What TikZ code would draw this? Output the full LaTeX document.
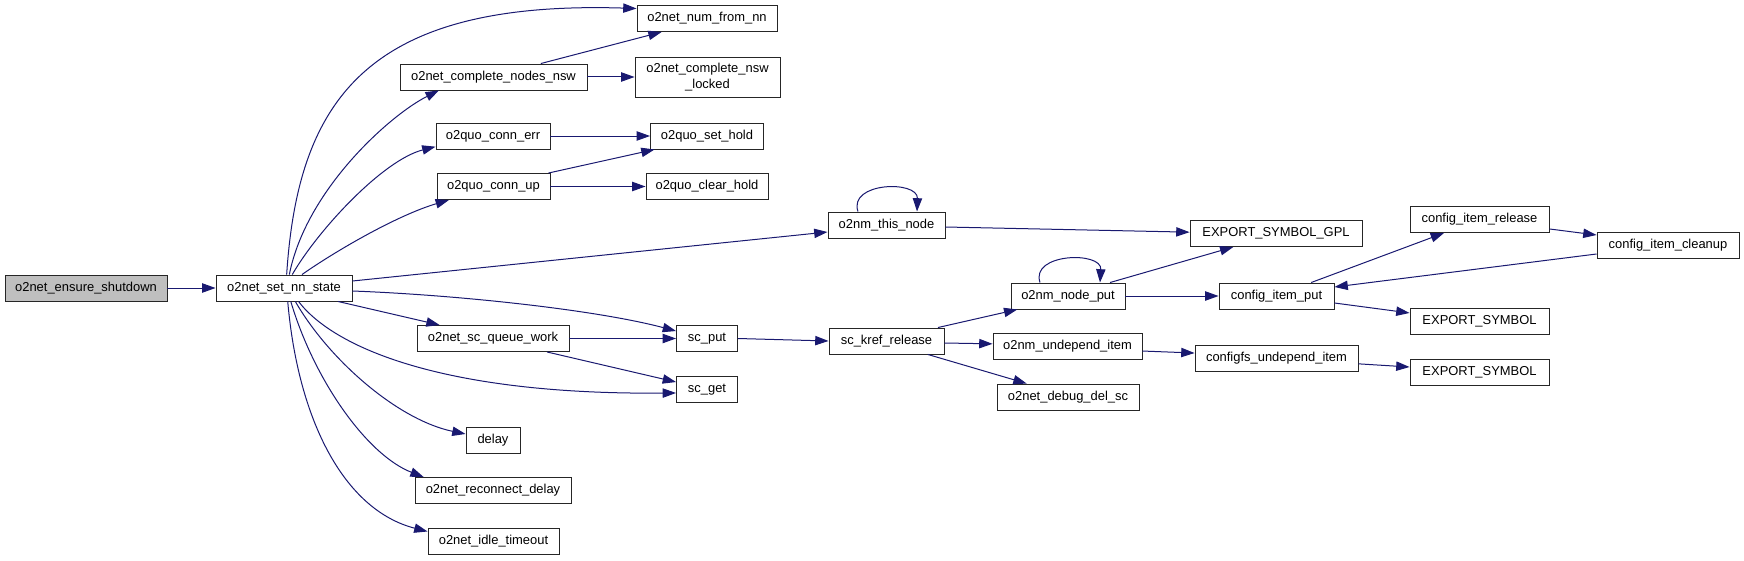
\documentclass[tikz,border=0pt]{standalone}
\usepackage{fontspec}
\setmainfont{Liberation Sans}
\usetikzlibrary{arrows.meta}
\definecolor{edgeblue}{HTML}{191970}
\definecolor{rootgray}{HTML}{BFBFBF}
\tikzset{
  fn/.style={draw=black!85, line width=0.7pt, inner sep=0pt, minimum height=19.5pt, font=\fontsize{9.7}{11.5}\selectfont},
  bw/.style={minimum width=#1*0.75pt},
  call/.style={draw=edgeblue, line width=0.75pt, -{Triangle[length=10pt,width=7pt]}}
}

\begin{document}
\begin{tikzpicture}[x=0.75pt,y=0.75pt,yscale=-1,xscale=1]
\useasboundingbox (0,0) rectangle (1744,560);

% Nodes, first column
\node[fn,bw=162,fill=rootgray] (ensure) at (86,288) {o2net\_ensure\_shutdown};
\node[fn,bw=136] (setnn) at (284,288) {o2net\_set\_nn\_state};

% Nodes called by o2net_set_nn_state
\node[fn,bw=187] (nodesnsw) at (493.5,77) {o2net\_complete\_nodes\_nsw};
\node[fn,bw=114] (connerr) at (493,136) {o2quo\_conn\_err};
\node[fn,bw=113] (connup) at (493.5,186.5) {o2quo\_conn\_up};
\node[fn,bw=152] (queuework) at (493,338.5) {o2net\_sc\_queue\_work};
\node[fn,bw=54] (delay) at (493,440) {delay};
\node[fn,bw=156] (reconnect) at (493,490.5) {o2net\_reconnect\_delay};
\node[fn,bw=131] (idle) at (493.5,541.5) {o2net\_idle\_timeout};

\node[fn,bw=140] (numfrom) at (707,18.5) {o2net\_num\_from\_nn};
\node[fn,bw=145,minimum height=30pt,align=center] (nswlocked) at (707.5,77) {o2net\_complete\_nsw\\\_locked};
\node[fn,bw=113] (sethold) at (707,136) {o2quo\_set\_hold};
\node[fn,bw=122] (clearhold) at (707,186.5) {o2quo\_clear\_hold};
\node[fn,bw=61] (scput) at (707,338.5) {sc\_put};
\node[fn,bw=61] (scget) at (707,389.5) {sc\_get};

% Right half
\node[fn,bw=117] (thisnode) at (886.5,225) {o2nm\_this\_node};
\node[fn,bw=115] (krefrel) at (886.5,341) {sc\_kref\_release};
\node[fn,bw=114] (nodeput) at (1068,296) {o2nm\_node\_put};
\node[fn,bw=149] (undepend) at (1067.5,346.5) {o2nm\_undepend\_item};
\node[fn,bw=142] (debugdel) at (1068,397) {o2net\_debug\_del\_sc};
\node[fn,bw=172] (gpl) at (1276,233.5) {EXPORT\_SYMBOL\_GPL};
\node[fn,bw=115] (itemput) at (1276.5,296) {config\_item\_put};
\node[fn,bw=163] (cfsundepend) at (1276.5,358.5) {configfs\_undepend\_item};
\node[fn,bw=139] (itemrelease) at (1479.5,219.5) {config\_item\_release};
\node[fn,bw=139] (exportone) at (1479.5,321.5) {EXPORT\_SYMBOL};
\node[fn,bw=139] (exporttwo) at (1479.5,372) {EXPORT\_SYMBOL};
\node[fn,bw=142] (itemcleanup) at (1668,245) {config\_item\_cleanup};

% Calls out of o2net_set_nn_state
\draw[call] (ensure) -- (setnn);
\draw[call] ([xshift=2pt]setnn.north) .. controls (298,100) and (367,0) .. ([yshift=-7.5pt]numfrom.west);
\draw[call] ([xshift=4pt]setnn.north) .. controls (306,190) and (390,115) .. ([xshift=-41pt]nodesnsw.south);
\draw[call] ([xshift=6.2pt]setnn.north) .. controls (318,230) and (383,160) .. ([yshift=8pt]connerr.west);
\draw[call] ([xshift=13.5pt]setnn.north) .. controls (337,250) and (398,215) .. ([xshift=-33.4pt]connup.south);
\draw[call] ([yshift=-5.25pt]setnn.east) -- ([yshift=5.25pt]thisnode.west);
\draw[call] ([yshift=2.25pt]setnn.east) .. controls (459,295) and (597,310) .. ([yshift=-5.6pt]scput.west);
\draw[call] ([xshift=40.5pt]setnn.south) -- ([xshift=-40pt]queuework.north);
\draw[call] ([xshift=10.9pt]setnn.south) .. controls (334,348) and (444,395) .. ([yshift=2.6pt]scget.west);
\draw[call] ([xshift=8.5pt]setnn.south) .. controls (329,360) and (398,420) .. ([yshift=-4.5pt]delay.west);
\draw[call] ([xshift=5.1pt]setnn.south) .. controls (314,380) and (367,455) .. ([xshift=-52pt]reconnect.north);
\draw[call] ([xshift=2.8pt]setnn.south) .. controls (298,420) and (344,510) .. ([yshift=-7.5pt]idle.west);

% Second level calls
\draw[call] ([xshift=35.5pt]nodesnsw.north) -- ([xshift=-34pt]numfrom.south);
\draw[call] (nodesnsw) -- (nswlocked);
\draw[call] (connerr) -- (sethold);
\draw[call] ([xshift=41.25pt]connup.north) -- ([xshift=-39.3pt]sethold.south);
\draw[call] (connup) -- (clearhold);
\draw[call] (queuework) -- (scput);
\draw[call] ([xshift=40.5pt]queuework.south) -- ([yshift=-5.6pt]scget.west);
\draw[call] (scput.east) -- (krefrel.west);

% Self loops
\draw[call] ([xshift=-21.4pt]thisnode.north) .. controls (848,182) and (918,180) .. ([xshift=22.9pt]thisnode.north);
\draw[call] ([xshift=-21pt]nodeput.north) .. controls (1030,253) and (1102,251) .. ([xshift=24pt]nodeput.north);

% Calls out of sc_kref_release and below
\draw[call] ([xshift=38.6pt]krefrel.north) -- ([xshift=-38pt]nodeput.south);
\draw[call] ([yshift=1.5pt]krefrel.east) -- ([yshift=-2pt]undepend.west);
\draw[call] ([xshift=31pt]krefrel.south) -- ([xshift=-31pt]debugdel.north);
\draw[call] ([yshift=1.5pt]thisnode.east) -- ([yshift=-1pt]gpl.west);
\draw[call] ([xshift=31.5pt]nodeput.north) -- ([xshift=-32pt]gpl.south);
\draw[call] (nodeput) -- (itemput);
\draw[call] ([yshift=3.4pt]undepend.east) -- ([yshift=-4.1pt]cfsundepend.west);
\draw[call] ([xshift=26pt]itemput.north) -- ([xshift=-26.6pt]itemrelease.south);
\draw[call] ([yshift=7.1pt]itemrelease.east) -- ([yshift=-7.5pt]itemcleanup.west);
\draw[call] ([yshift=6.75pt]itemcleanup.west) -- ([yshift=-6.75pt]itemput.east);
\draw[call] ([yshift=5.25pt]itemput.east) -- ([yshift=-6.4pt]exportone.west);
\draw[call] ([yshift=4pt]cfsundepend.east) -- ([yshift=-3.75pt]exporttwo.west);

\end{tikzpicture}
\end{document}
